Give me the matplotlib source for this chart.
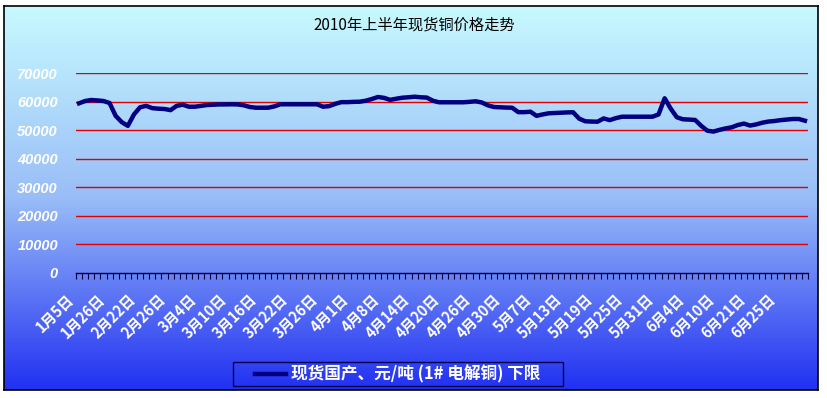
"""
2010年上半年现货铜价格走势 (Excel 風のグラデーション背景チャートを再現)
"""

import matplotlib

matplotlib.use("Agg")
import matplotlib.pyplot as plt
import matplotlib.transforms as mtransforms
import numpy as np
from matplotlib.lines import Line2D
from matplotlib.patches import Rectangle
from matplotlib.ticker import FixedLocator, NullFormatter

plt.rcParams["font.family"] = ["Noto Sans CJK SC", "DejaVu Sans"]

TITLE = "2010年上半年现货铜价格走势"
SERIES_NAME = "现货国产、元/吨 (1# 电解铜) 下限"

# 横軸ラベル (5 カテゴリごとに表示)
DATE_LABELS = [
    "1月5日", "1月26日", "2月22日", "2月26日", "3月4日", "3月10日",
    "3月16日", "3月22日", "3月26日", "4月1日", "4月8日", "4月14日",
    "4月20日", "4月26日", "4月30日", "5月7日", "5月13日", "5月19日",
    "5月25日", "5月31日", "6月4日", "6月10日", "6月21日", "6月25日",
]
LABEL_STEP = 5

# 価格 (元/吨), 120 取引日分を画像から読み取り
PRICES = [
    59400, 60200, 60550, 60400, 60200, 59500, 55000, 52800, 51500, 55500,
    58000, 58500, 57700, 57500, 57400, 57000, 58500, 58900, 58200, 58200,
    58500, 58800, 58900, 59000, 59000, 59050, 59000, 58700, 58100, 57850,
    57850, 57850, 58300, 59050, 59050, 59050, 59050, 59050, 59050, 59050,
    58200, 58400, 59200, 59800, 59800, 59900, 59950, 60300, 60900, 61600,
    61300, 60600, 61000, 61350, 61500, 61700, 61500, 61400, 60300, 59750,
    59750, 59750, 59750, 59750, 59900, 60100, 59700, 58700, 58100, 58000,
    57900, 57850, 56300, 56300, 56450, 55000, 55500, 55900, 56000, 56100,
    56200, 56250, 54000, 53100, 53000, 52950, 54100, 53500, 54200, 54700,
    54700, 54700, 54700, 54700, 54700, 55500, 61150, 57500, 54500, 53800,
    53700, 53550, 51500, 49800, 49500, 50100, 50600, 51000, 51800, 52300,
    51600, 52000, 52600, 53000, 53200, 53500, 53700, 53900, 53900, 53300,
]
Y_TICKS = [0, 10000, 20000, 30000, 40000, 50000, 60000, 70000]

W, H = 827, 398
LINE_COLOR = "#000080"


def main():
    fig = plt.figure(figsize=(W / 100, H / 100), dpi=100)
    fig.patch.set_facecolor("white")

    # 背景グラデーション (外枠つき)
    bg = fig.add_axes([4 / W, 8 / H, 814 / W, 384 / H], zorder=0)
    t = np.linspace(0, 1, 256)[:, None]
    top = np.array([0.78, 0.98, 1.0])
    mid = np.array([0.60, 0.74, 0.97])
    bot = np.array([0.13, 0.19, 0.95])
    grad = np.where(t < 0.5, top + (mid - top) * (t / 0.5),
                    mid + (bot - mid) * ((t - 0.5) / 0.5))
    bg.imshow(grad.reshape(256, 1, 3), aspect="auto", extent=[0, 1, 0, 1], origin="upper")
    bg.set_xticks([])
    bg.set_yticks([])
    for s in bg.spines.values():
        s.set_color("black")
        s.set_linewidth(1.2)

    ax = fig.add_axes([76 / W, 125 / H, 732 / W, 200 / H], zorder=1)
    ax.patch.set_alpha(0)

    x = np.arange(len(PRICES))
    ax.plot(x, PRICES, color=LINE_COLOR, linewidth=3.2, solid_joinstyle="round", zorder=3)

    ax.set_xlim(-0.5, len(PRICES) - 0.5)
    ax.set_ylim(0, 70000)

    ax.set_yticks(Y_TICKS)
    ax.set_yticklabels([str(v) for v in Y_TICKS], family="Liberation Sans",
                       fontsize=10.5, fontweight="bold", style="italic", color="white")
    ax.tick_params(axis="y", length=0, pad=13)
    for v in Y_TICKS[1:]:
        ax.axhline(v, color="#e00000", linewidth=1.0, zorder=1)

    # 目盛り線はカテゴリの間、ラベルは 45° 斜め
    ax.xaxis.set_major_locator(FixedLocator(np.arange(-0.5, len(PRICES), 1.0)))
    ax.xaxis.set_major_formatter(NullFormatter())
    ax.tick_params(axis="x", which="major", length=4, direction="out", color="#000040", width=0.8)
    shift = mtransforms.ScaledTranslation(-13 / 100, -18 / 100, fig.dpi_scale_trans)
    label_tf = ax.get_xaxis_transform() + shift
    for i, lbl in enumerate(DATE_LABELS):
        ax.text(i * LABEL_STEP, 0, lbl, transform=label_tf, rotation=45, ha="right", va="top",
                rotation_mode="anchor", fontsize=10.5, fontweight="bold", color="white",
                clip_on=False)

    for side in ("top", "right", "left"):
        ax.spines[side].set_visible(False)
    ax.spines["bottom"].set_color("#000040")
    ax.spines["bottom"].set_linewidth(1.0)

    fig.text(414 / W, 1 - 25 / H, TITLE, ha="center", va="center", fontsize=11, color="black")

    # 凡例 (Excel 風の枠)
    fig.add_artist(Rectangle((233 / W, 1 - 386 / H), 330 / W, 24 / H, transform=fig.transFigure,
                             facecolor="none", edgecolor="#000050", linewidth=1.0))
    fig.add_artist(Line2D([255 / W, 286 / W], [1 - 374 / H] * 2, transform=fig.transFigure,
                          color=LINE_COLOR, linewidth=3.2))
    fig.text(291 / W, 1 - 374 / H, SERIES_NAME, ha="left", va="center", fontsize=12,
             fontweight="bold", style="italic", color="white")

    fig.savefig("out.png", dpi=100)
    plt.close(fig)


if __name__ == "__main__":
    main()
